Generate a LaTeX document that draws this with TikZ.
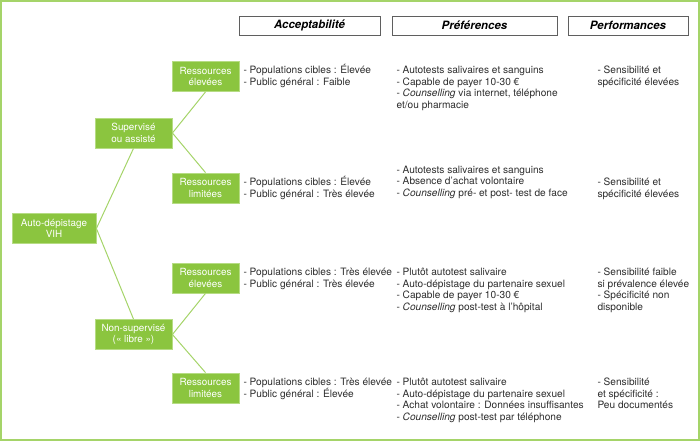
\documentclass[tikz,border=0pt]{standalone}
\usepackage{fontspec}
\setmainfont{TeX Gyre Heros}
\definecolor{boxgreen}{RGB}{139,197,63}
\definecolor{boxedge}{RGB}{182,220,132}
\definecolor{branchgreen}{RGB}{165,212,105}
\definecolor{headgray}{RGB}{95,95,95}
\definecolor{txtgray}{RGB}{45,45,45}
\tikzset{every picture/.style={line width=0.75pt}}
\tikzset{
  greenbox/.style={fill=boxgreen, draw=boxedge, line width=0.6pt, text=white, align=center,
    inner sep=0pt, minimum height=22.5pt, font=\fontsize{7.4}{8.8}\selectfont},
  headbox/.style={fill=white, draw=headgray, line width=0.6pt, inner sep=0pt,
    minimum height=14.25pt, font=\fontsize{8.6}{10}\selectfont\bfseries\itshape},
  txt/.style={anchor=base west, align=left, inner sep=0pt, text=txtgray,
    font=\fontsize{7.6}{8.8}\selectfont},
  branch/.style={draw=branchgreen, line width=0.75pt}
}

\begin{document}
\begin{tikzpicture}[x=0.75pt,y=0.75pt,yscale=-1]
\useasboundingbox (0,0) rectangle (700,441);
%Frame
\draw [branchgreen, line width=1.2pt] (1,1) rectangle (699,440);

% Header Boxes
\node [headbox, minimum width=105.75pt] (hacc) at (309.5,25.5) {Acceptabilité};
\node [headbox, minimum width=123.75pt] (hpref) at (474.5,25.5) {Préférences};
\node [headbox, minimum width=90pt] (hperf) at (628,25.5) {Performances};

% Green Boxes
\node [greenbox, minimum width=63pt] (auto) at (54,228.5) {Auto-dépistage\\VIH};
\node [greenbox, minimum width=57.75pt] (sup) at (133.5,133) {Supervisé\\ou assisté};
\node [greenbox, minimum width=57.75pt] (nonsup) at (133.5,334.5) {Non-supervisé\\(« libre »)};
\node [greenbox, minimum width=50.25pt] (supre) at (205.5,76.5) {Ressources\\élevées};
\node [greenbox, minimum width=50.25pt] (suprl) at (205.5,188) {Ressources\\limitées};
\node [greenbox, minimum width=50.25pt] (nonre) at (205.5,278) {Ressources\\élevées};
\node [greenbox, minimum width=50.25pt] (nonrl) at (205.5,388) {Ressources\\limitées};

% Branches
\draw [branch] (auto.east) -- (sup.south);
\draw [branch] (auto.east) -- (nonsup.north);
\draw [branch] (sup.east) -- (supre.south);
\draw [branch] (sup.east) -- (suprl.north);
\draw [branch] (nonsup.east) -- (nonre.south);
\draw [branch] (nonsup.east) -- (nonrl.north);

% Text Node (base = last line)
\node [txt] (acc1) at (243,85.2) {- Populations cibles : Élevée\\- Public général : Faible};
% Text Node
\node [txt] (pref1) at (396,108.7) {- Autotests salivaires et sanguins\\- Capable de payer 10-30 €\\- \textit{Counselling} via internet, téléphone\\et/ou pharmacie};
% Text Node
\node [txt] (perf1) at (597,85.2) {- Sensibilité et\\spécificité élevées};
% Text Node
\node [txt] (acc2) at (243,197.2) {- Populations cibles : Élevée\\- Public général : Très élevée};
% Text Node
\node [txt] (pref2) at (396,196.5) {- Autotests salivaires et sanguins\\- Absence d’achat volontaire\\- \textit{Counselling} pré- et post- test de face};
% Text Node
\node [txt] (perf2) at (597,197.2) {- Sensibilité et\\spécificité élevées};
% Text Node
\node [txt] (acc3) at (243,287.2) {- Populations cibles : Très élevée\\- Public général : Très élevée};
% Text Node
\node [txt] (pref3) at (396,310.7) {- Plutôt autotest salivaire\\- Auto-dépistage du partenaire sexuel\\- Capable de payer 10-30 €\\- \textit{Counselling} post-test à l’hôpital};
% Text Node
\node [txt] (perf3) at (597,310.7) {- Sensibilité faible\\si prévalence élevée\\- Spécificité non\\disponible};
% Text Node
\node [txt] (acc4) at (243,397.2) {- Populations cibles : Très élevée\\- Public général : Élevée};
% Text Node
\node [txt] (pref4) at (396,420.7) {- Plutôt autotest salivaire\\- Auto-dépistage du partenaire sexuel\\- Achat volontaire : Données insuffisantes\\- \textit{Counselling} post-test par téléphone};
% Text Node
\node [txt] (perf4) at (597,409) {- Sensibilité\\et spécificité :\\Peu documentés};

\end{tikzpicture}
\end{document}
